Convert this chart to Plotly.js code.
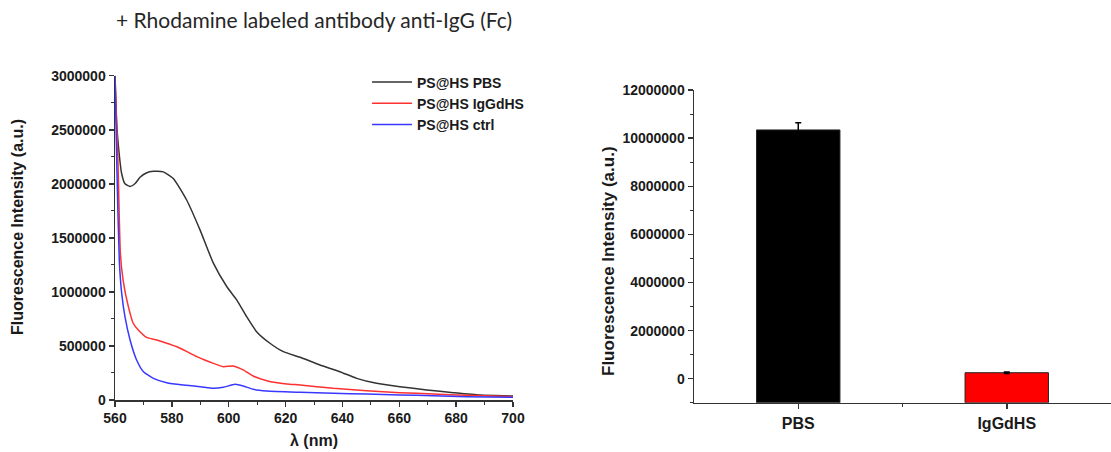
<!DOCTYPE html>
<html>
<head>
<meta charset="utf-8">
<script src="https://cdn.plot.ly/plotly-3.0.1.min.js"></script>
<style>html,body{margin:0;padding:0;background:#fff;}#chart{width:1111px;height:452px;}</style>
</head>
<body>
<div id="chart"></div>
<script>
// ---- Spectra (left panel) ----
const pbsLambda = [560, 560.6, 561.2, 562.3, 563.5, 565.3, 567, 568.8, 571, 573.5, 577, 580.5, 585.2, 589.9, 594.6, 599.3, 602.8, 606.3, 609.8, 614.5, 619.2, 625.1, 632.1, 639.1, 645, 652, 660.2, 669.6, 679, 688.4, 700];
const pbsValues = [3000000, 2550000, 2350000, 2100000, 2000000, 1975000, 2000000, 2060000, 2100000, 2115000, 2110000, 2050000, 1850000, 1574000, 1266000, 1050000, 926000, 771000, 632000, 525000, 447000, 395000, 324000, 262000, 200000, 154000, 123000, 93000, 68000, 46000, 37000];

const iggLambda = [560, 561, 561.9, 562.9, 564.7, 566.4, 568.2, 571.1, 574.7, 579.3, 583.5, 588.8, 594.6, 598.1, 601.6, 605.1, 608.6, 613.4, 620.4, 625.1, 636.8, 648.5, 660.2, 672, 683.7, 700];
const iggValues = [3000000, 2250000, 1350000, 1100000, 864000, 710000, 648000, 580000, 555000, 515000, 472000, 401000, 339000, 308000, 315000, 278000, 222000, 179000, 148000, 139000, 108000, 86000, 68000, 55000, 43000, 31000];

const ctrlLambda = [560, 560.7, 561.5, 562.3, 563.5, 565.3, 567.6, 570, 573.5, 578.2, 584, 590, 594.6, 598.1, 602.2, 605.1, 608.6, 613.4, 625, 636.8, 648.5, 660, 672, 683.7, 700];
const ctrlValues = [3000000, 2100000, 1300000, 1000000, 771000, 555000, 370000, 262000, 200000, 160000, 139000, 123000, 108000, 117000, 145000, 130000, 99000, 83000, 71000, 62000, 55000, 46000, 40000, 31000, 25000];

const seriesNames = ['PS@HS PBS', 'PS@HS IgGdHS', 'PS@HS ctrl'];

// ---- Bars (right panel) ----
const barCategories = ['PBS', 'IgGdHS'];
const barValues = [10340000, 250000];
const barErrors = [300000, 30000];

const leftYTicks = [0, 500000, 1000000, 1500000, 2000000, 2500000, 3000000];
const rightYTicks = [0, 2000000, 4000000, 6000000, 8000000, 10000000, 12000000];
const rightYMin = -1000000;

const tickFont = {family: 'Liberation Sans, Arial, sans-serif', size: 14, color: '#1a1a1a', weight: 'bold'};
const axisColor = '#333';

const traces = [
  {x: pbsLambda, y: pbsValues, name: seriesNames[0], type: 'scatter', mode: 'lines',
   line: {color: '#333333', width: 1.5, shape: 'spline', smoothing: 0.5}, xaxis: 'x', yaxis: 'y'},
  {x: iggLambda, y: iggValues, name: seriesNames[1], type: 'scatter', mode: 'lines',
   line: {color: '#ff3030', width: 1.5, shape: 'spline', smoothing: 0.5}, xaxis: 'x', yaxis: 'y'},
  {x: ctrlLambda, y: ctrlValues, name: seriesNames[2], type: 'scatter', mode: 'lines',
   line: {color: '#3838ff', width: 1.5, shape: 'spline', smoothing: 0.5}, xaxis: 'x', yaxis: 'y'},
  {x: [1, 2], y: barValues.map(v => v - rightYMin), base: rightYMin, type: 'bar', width: 0.4,
   marker: {color: ['#000000', '#ff0000'], line: {color: '#222', width: 1}},
   error_y: {type: 'data', array: barErrors, color: '#000', thickness: 1.5, width: 3},
   showlegend: false, xaxis: 'x2', yaxis: 'y2', hoverinfo: 'skip'}
];

const layout = {
  width: 1111, height: 452,
  margin: {l: 0, r: 0, t: 0, b: 0},
  paper_bgcolor: '#fff', plot_bgcolor: '#fff',
  showlegend: true,
  legend: {x: 0.3303, y: 0.853, xanchor: 'left', yanchor: 'top', itemwidth: 40,
    font: {family: 'Liberation Sans, Arial, sans-serif', size: 14, color: '#1a1a1a', weight: 'bold'},
    bgcolor: 'rgba(0,0,0,0)', tracegroupgap: 0},
  xaxis: {domain: [115/1111, 513/1111], range: [560, 700], anchor: 'y',
    showgrid: false, zeroline: false, showline: true, linecolor: axisColor, linewidth: 1.5,
    ticks: 'outside', ticklen: 5, tickwidth: 1.5, tickcolor: axisColor, dtick: 20, tick0: 560,
    minor: {dtick: 10, ticks: 'outside', ticklen: 3, tickwidth: 1, tickcolor: axisColor},
    tickfont: tickFont},
  yaxis: {domain: [1 - 400/452, 1 - 75.7/452], range: [0, 3000000], anchor: 'x',
    showgrid: false, zeroline: false, showline: true, linecolor: axisColor, linewidth: 1.5,
    ticks: 'outside', ticklen: 5, tickwidth: 1.5, tickcolor: axisColor,
    tickvals: leftYTicks, ticktext: leftYTicks.map(String),
    minor: {dtick: 250000, ticks: 'outside', ticklen: 3, tickwidth: 1, tickcolor: axisColor},
    tickfont: tickFont},
  xaxis2: {domain: [694/1111, 1], range: [0.5, 2.5], anchor: 'y2',
    showgrid: false, zeroline: false, showline: true, linecolor: axisColor, linewidth: 1.5,
    ticks: 'outside', ticklen: 5, tickwidth: 1.5, tickcolor: axisColor,
    tickvals: [1, 2], ticktext: barCategories,
    minor: {tickvals: [1.5], ticks: 'outside', ticklen: 3, tickwidth: 1, tickcolor: axisColor},
    tickfont: {family: 'Liberation Sans, Arial, sans-serif', size: 16, color: '#1a1a1a', weight: 'bold'}},
  yaxis2: {domain: [1 - 402.8/452, 1 - 90/452], range: [rightYMin, 12000000], anchor: 'x2',
    showgrid: false, zeroline: false, showline: true, linecolor: axisColor, linewidth: 1.5,
    ticks: 'outside', ticklen: 5, tickwidth: 1.5, tickcolor: axisColor,
    tickvals: rightYTicks, ticktext: rightYTicks.map(String),
    minor: {dtick: 1000000, ticks: 'outside', ticklen: 3, tickwidth: 1, tickcolor: axisColor},
    tickfont: tickFont},
  annotations: [
    {text: '+ Rhodamine labeled antibody anti-IgG (Fc)', xref: 'paper', yref: 'paper',
     x: 314/1111, y: 1 - 20/452, xanchor: 'center', yanchor: 'middle', showarrow: false,
     font: {family: 'Lato, Open Sans, sans-serif', size: 21, color: '#262626'}},
    {text: 'Fluorescence Intensity (a.u.)', xref: 'paper', yref: 'paper',
     x: 18/1111, y: 1 - 227/452, xanchor: 'center', yanchor: 'middle', showarrow: false, textangle: -90,
     font: {family: 'Liberation Sans, Arial, sans-serif', size: 16, color: '#1a1a1a', weight: 'bold'}},
    {text: 'λ (nm)', xref: 'paper', yref: 'paper',
     x: 314/1111, y: 1 - 440/452, xanchor: 'center', yanchor: 'middle', showarrow: false,
     font: {family: 'Liberation Sans, Arial, sans-serif', size: 16, color: '#1a1a1a', weight: 'bold'}},
    {text: 'Fluorescence Intensity (a.u.)', xref: 'paper', yref: 'paper',
     x: 608/1111, y: 1 - 261/452, xanchor: 'center', yanchor: 'middle', showarrow: false, textangle: -90,
     font: {family: 'Liberation Sans, Arial, sans-serif', size: 17, color: '#1a1a1a', weight: 'bold'}}
  ]
};

Plotly.newPlot('chart', traces, layout, {displayModeBar: false, staticPlot: true});
</script>
</body>
</html>
